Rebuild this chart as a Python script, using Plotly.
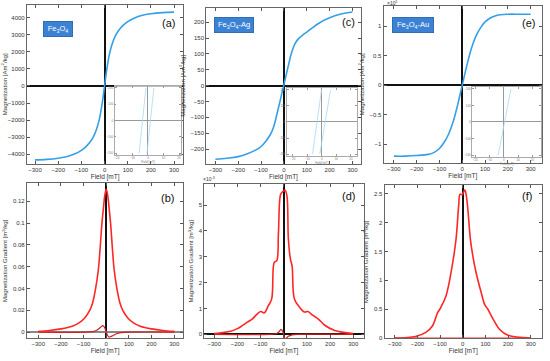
import plotly.graph_objects as go

# ---------------- data ----------------
# (a) Fe3O4 magnetization
H_a = [-300,-250,-200,-160,-130,-100,-80,-60,-45,-30,-20,-10,0,10,20,30,45,60,80,100,130,160,200,250,300]
M_a = [-4340,-4310,-4240,-4140,-4000,-3780,-3560,-3250,-2900,-2350,-1800,-1000,0,1000,1800,2350,2900,3250,3560,3780,4000,4140,4240,4310,4340]
# (c) Fe3O4-Ag magnetization
H_c = [-300,-250,-200,-160,-120,-100,-80,-60,-50,-40,-30,-20,-10,0,10,20,30,40,50,60,80,100,120,160,200,250,300]
M_c = [-232,-229,-224,-215,-202,-192,-176,-155,-140,-118,-88,-58,-27,3,34,65,95,118,134,145,158,169,180,200,214,226,232]
# (e) Fe3O4-Au magnetization (x 10^5)
H_e = [-300,-250,-200,-150,-125,-100,-80,-60,-40,-20,0,20,40,60,80,100,125,150,200,250,300]
M_e = [-1.20,-1.20,-1.19,-1.17,-1.14,-1.07,-0.97,-0.83,-0.62,-0.33,0,0.33,0.62,0.83,0.97,1.07,1.14,1.18,1.20,1.20,1.20]

# (b) Fe3O4 gradient
H_b = [-300,-250,-200,-150,-120,-95,-73,-60,-47,-35,-26,-19,-12,-6,0,6,12,19,26,35,47,60,73,95,120,150,200,250,300]
G_b = [0.0007,0.0015,0.0030,0.0055,0.0085,0.013,0.020,0.027,0.040,0.057,0.080,0.100,0.115,0.126,0.131,
       0.126,0.115,0.100,0.080,0.057,0.040,0.027,0.020,0.013,0.0085,0.0055,0.0030,0.0015,0.0007]
H_b2 = [-300,-100,-60,-40,-25,-15,-8,0,6,12,20,30,45,65,100,300]
G_b2 = [0,0,0.0005,0.002,0.0045,0.006,0.0045,0,-0.003,-0.0045,-0.004,-0.003,-0.0015,-0.0005,0,0]
# (d) Fe3O4-Ag gradient (x 10^-3)
H_d = [-300,-229,-200,-157,-135,-113,-99,-84,-67,-52,-41,-30,-23,-14,-7,0,6,14,20,29,36,46,68,90,104,126,148,177,220,300]
G_d = [0.03,0.12,0.22,0.47,0.60,0.80,0.88,0.83,1.10,1.37,2.78,2.85,3.90,5.40,5.50,5.55,5.58,5.35,3.70,2.90,2.65,1.37,1.05,0.86,0.88,0.73,0.60,0.35,0.15,0.03]
H_d2 = [-300,-60,-30,-20,-12,-5,0,6,12,20,30,45,60,300]
G_d2 = [0,0,0.03,0.10,0.19,0.12,0,-0.17,-0.14,-0.08,-0.04,-0.01,0,0]
# (f) Fe3O4-Au gradient
H_f = [-300,-208,-163,-134,-111,-97,-74,-52,-30,-18,-12,-3,9,15,22,34,45,59,82,97,111,134,163,200,300]
G_f = [0,0.03,0.10,0.21,0.44,0.53,0.73,1.13,1.70,2.29,2.49,2.48,2.56,2.48,2.25,1.70,1.41,1.13,0.78,0.58,0.50,0.33,0.15,0.05,0]
H_f2 = [-300,300]
G_f2 = [0,0]

# inset lines (near-zero hysteresis branches)
ins_a_x1 = [-5.7,-1.3]; ins_a_x2 = [-0.6,3.8]; ins_a_y = [-200,200]
ins_c_x1 = [-6.4,-0.2]; ins_c_x2 = [-1.4,6.0]; ins_c_y = [-200,200]
ins_e_x1 = [-3.9,5.0]; ins_e_y = [-200,200]
ins_xticks = [-20,-10,0,10,20]
ins_yticks = [-200,-100,0,100,200]

xticks_main = [-300,-200,-100,0,100,200,300]

# ---------------- layout ----------------
W, Hh = 550, 361
def dx(a, b): return [a / W, b / W]
def dy(top, bottom): return [1 - bottom / Hh, 1 - top / Hh]

FONT = "Liberation Sans"
BLUE = "#35a0e6"
RED = "#ff2626"

fig = go.Figure()

panels = [
    (1, dx(25,182), dy(5,165), [-335,340], [-4560,4760], list(range(-4000,4001,1000)), "Magnetization [Am<sup>2</sup>/kg]"),
    (2, dx(205,360), dy(8,165), [-340,336], [-246,245], list(range(-200,201,50)), "Magnetization [Am<sup>2</sup>/kg]"),
    (3, dx(383,542), dy(6,164), [-345,350], [-1.31,1.34], [-1,-0.5,0,0.5,1], "Magnetization [Am<sup>2</sup>/kg]"),
    (4, dx(25,182), dy(185,341), [-350,340], [-0.0055,0.1364], [0,0.02,0.04,0.06,0.08,0.1,0.12], "Magnetization Gradient [m<sup>3</sup>/kg]"),
    (5, dx(203,363), dy(186,341), [-343,345], [-0.15,5.8], [0,1,2,3,4,5], "Magnetization Gradient [m<sup>3</sup>/kg]"),
    (6, dx(384,542), dy(187,341), [-345,350], [0,2.64], [0,0.5,1,1.5,2,2.5], "Magnetization Gradient [m<sup>3</sup>/kg]"),
]

layout = dict(width=W, height=Hh, margin=dict(l=0, r=0, t=0, b=0),
              paper_bgcolor="white", plot_bgcolor="white", showlegend=False,
              font=dict(family=FONT, size=6, color="#222"))

for idx, xd, yd, xr, yr, yt, ytitle in panels:
    sfx = "" if idx == 1 else str(idx)
    layout["xaxis" + sfx] = dict(domain=xd, range=xr, anchor="y" + sfx, tickvals=xticks_main,
                                 ticks="inside", ticklen=3, tickcolor="#555", mirror="ticks",
                                 showline=True, linecolor="#666", linewidth=1, showgrid=False,
                                 zeroline=True, zerolinecolor="#111", zerolinewidth=1.5,
                                 tickfont=dict(size=6, color="#333"),
                                 title=dict(text="Field [mT]", font=dict(size=6.5, color="#333"), standoff=2))
    layout["yaxis" + sfx] = dict(domain=yd, range=yr, anchor="x" + sfx, tickvals=yt,
                                 ticks="inside", ticklen=3, tickcolor="#555", mirror="ticks",
                                 showline=True, linecolor="#666", linewidth=1, showgrid=False,
                                 zeroline=True, zerolinecolor="#111" if idx != 4 else "#888",
                                 zerolinewidth=1.5 if idx != 4 else 2,
                                 tickfont=dict(size=6, color="#333"),
                                 title=dict(text=ytitle, font=dict(size=6, color="#333"), standoff=4))

# insets
insets = [
    (7, dx(113,180), dy(87,156), [-21.5,21.5]),
    (8, dx(286,356), dy(89,157), [-24,24]),
    (9, dx(472,541), dy(88,158), [-22,26]),
]
for idx, xd, yd, xr in insets:
    s = str(idx)
    layout["xaxis" + s] = dict(domain=xd, range=xr, anchor="y" + s, tickvals=ins_xticks,
                               ticks="inside", ticklen=2, tickcolor="#999", mirror="ticks",
                               showline=True, linecolor="#aaa", linewidth=0.8, showgrid=False,
                               zeroline=True, zerolinecolor="#999", zerolinewidth=1,
                               tickfont=dict(size=3, color="#777"),
                               title=dict(text="Field [mT]", font=dict(size=3, color="#777"), standoff=0))
    layout["yaxis" + s] = dict(domain=yd, range=[-210,210], anchor="x" + s,
                               tickvals=ins_yticks,
                               ticks="inside", ticklen=2, tickcolor="#999", mirror="ticks",
                               showline=True, linecolor="#aaa", linewidth=0.8, showgrid=False,
                               zeroline=True, zerolinecolor="#999", zerolinewidth=1,
                               tickfont=dict(size=3, color="#777"))

fig.update_layout(**layout)

def add(x, y, i, color, width=1.6, shape="spline"):
    sfx = "" if i == 1 else str(i)
    fig.add_trace(go.Scatter(x=x, y=y, xaxis="x" + sfx, yaxis="y" + sfx, mode="lines",
                             line=dict(color=color, width=width, shape=shape), hoverinfo="skip"))

add(H_a, M_a, 1, BLUE)
add(H_c, M_c, 2, BLUE)
add(H_e, M_e, 3, BLUE)
add(H_b2, G_b2, 4, "#d02020", 1.2)
add(H_b, G_b, 4, RED)
add(H_d2, G_d2, 5, "#d02020", 1.2)
add(H_d, G_d, 5, RED)
add(H_f2, G_f2, 6, RED, 1.2, "linear")
add(H_f, G_f, 6, RED)

LB = "#a8d8f5"
add(ins_a_x1, ins_a_y, 7, LB, 0.8, "linear")
add(ins_a_x2, ins_a_y, 7, LB, 0.8, "linear")
add(ins_c_x1, ins_c_y, 8, LB, 0.8, "linear")
add(ins_c_x2, ins_c_y, 8, LB, 0.8, "linear")
add(ins_e_x1, ins_e_y, 9, LB, 0.8, "linear")

def px(x, y): return x / W, 1 - y / Hh

ann = []
for lab, (x, y) in [("(a)", (167, 23)), ("(c)", (348, 22)), ("(e)", (528, 23)),
                    ("(b)", (166, 200)), ("(d)", (348, 198)), ("(f)", (527, 198))]:
    xx, yy = px(x, y)
    ann.append(dict(x=xx, y=yy, xref="paper", yref="paper", text=lab, showarrow=False,
                    font=dict(size=11, color="#111", family=FONT), xanchor="center", yanchor="middle"))

for lab, (x, y), w in [("Fe<sub>3</sub>O<sub>4</sub>", (56, 29), 24),
                       ("Fe<sub>3</sub>O<sub>4</sub>-Ag", (233, 25), 34),
                       ("Fe<sub>3</sub>O<sub>4</sub>-Au", (412, 25), 36)]:
    xx, yy = px(x, y)
    ann.append(dict(x=xx, y=yy, xref="paper", yref="paper", text=lab, showarrow=False,
                    font=dict(size=7.5, color="white", family=FONT), xanchor="center", yanchor="middle",
                    width=w, height=10, align="center",
                    bgcolor="#3b82d4", bordercolor="#2f6db5", borderwidth=1, borderpad=2))

for lab, (x, y) in [("\u00d710<sup>5</sup>", (384, 3)), ("\u00d710<sup>-3</sup>", (200, 181))]:
    xx, yy = px(x, y)
    ann.append(dict(x=xx, y=yy, xref="paper", yref="paper", text=lab, showarrow=False,
                    font=dict(size=5, color="#333", family=FONT), xanchor="left", yanchor="middle"))

fig.update_layout(annotations=ann)
fig.write_html("out.html", config={"displayModeBar": False},
               post_script="document.body.style.margin='0px';document.body.style.overflow='hidden';")
